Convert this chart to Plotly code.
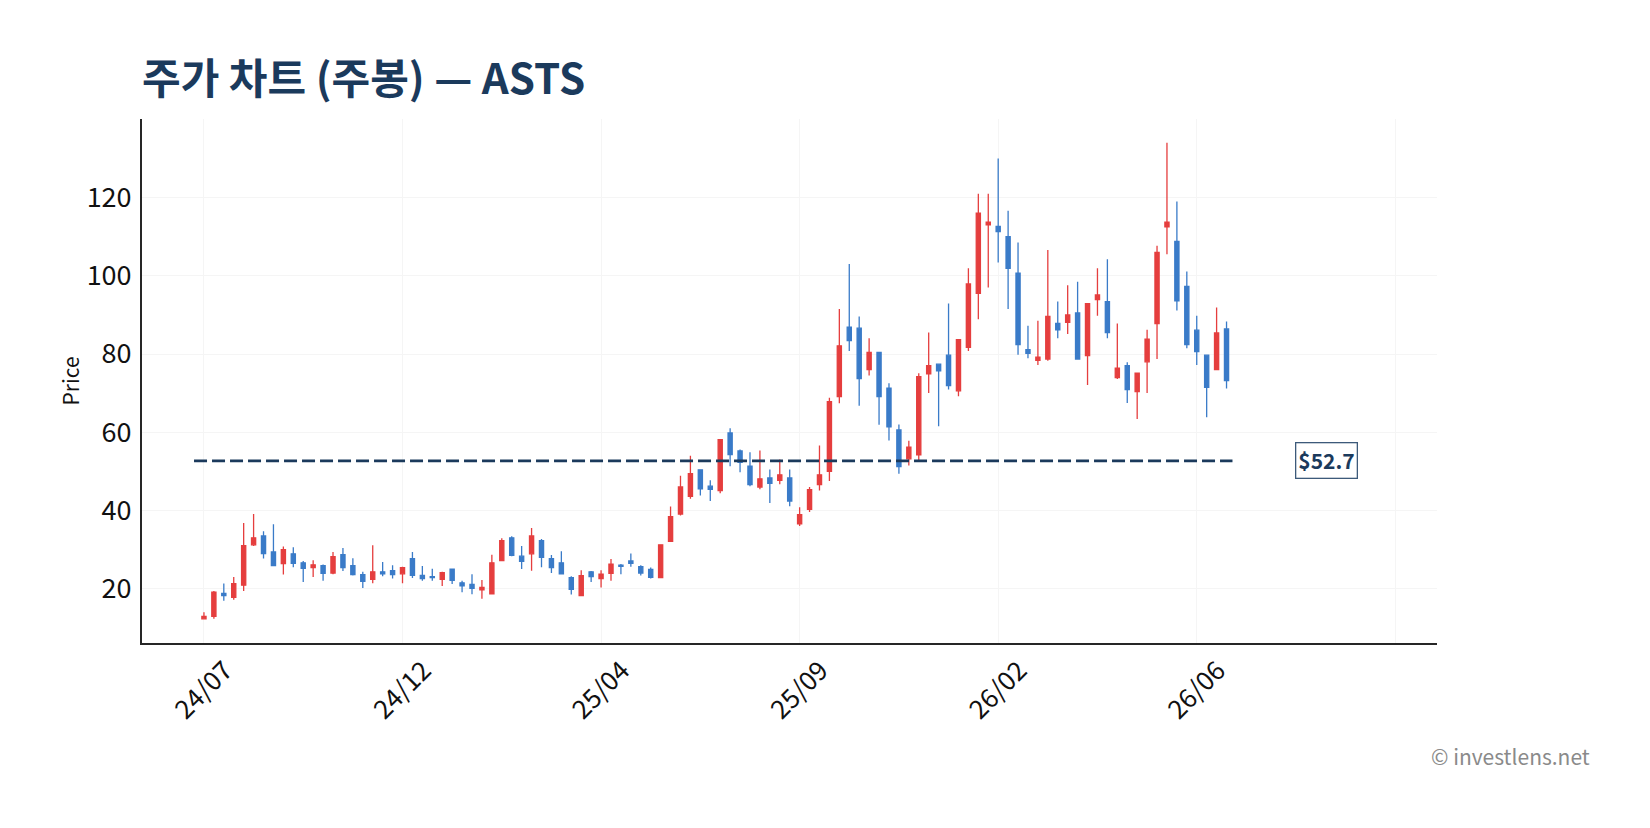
import plotly.graph_objects as go

# ---- data (weekly candles) ----
OPEN = [12.3, 12.9, 18.8, 17.8, 20.9, 31.2, 33.5, 29.4, 26.4, 28.9,
        26.6, 25.4, 25.9, 24.0, 28.7, 25.9, 23.6, 22.4, 24.3, 24.6,
        23.8, 27.7, 23.4, 23.1, 22.4, 25.0, 21.5, 21.1, 19.7, 18.7,
        27.2, 33.0, 28.3, 28.9, 32.3, 27.7, 26.6, 22.8, 18.2, 24.3,
        22.6, 23.9, 26.0, 27.1, 25.6, 24.9, 22.8, 32.1, 39.1, 43.6,
        50.4, 46.2, 45.1, 59.8, 55.2, 51.3, 46.0, 48.3, 47.7, 48.3,
        36.6, 40.3, 46.6, 50.0, 69.1, 86.9, 86.6, 76.0, 80.4, 71.3,
        60.6, 53.2, 54.2, 74.9, 77.4, 79.7, 70.6, 81.7, 95.5, 113.0,
        112.6, 110.0, 100.7, 81.1, 78.4, 78.7, 87.8, 88.1, 90.5, 79.6,
        93.9, 93.4, 74.0, 77.0, 70.4, 78.0, 87.8, 112.5, 108.8, 97.3,
        86.1, 79.7, 76.0, 86.4]
HIGH = [14.0, 19.4, 21.3, 23.0, 36.8, 39.1, 34.7, 36.5, 30.8, 30.6,
        27.1, 27.3, 26.2, 29.4, 30.4, 27.8, 24.3, 31.1, 26.8, 26.0,
        25.6, 29.4, 25.8, 25.1, 24.3, 25.1, 22.0, 23.7, 22.2, 28.7,
        32.9, 33.4, 30.9, 35.5, 32.7, 28.6, 29.6, 23.2, 24.7, 24.5,
        24.7, 27.6, 26.3, 29.0, 26.0, 25.4, 31.3, 41.0, 48.9, 54.0,
        50.5, 47.7, 58.3, 61.0, 55.6, 54.9, 55.3, 50.5, 53.0, 50.5,
        40.8, 46.0, 56.6, 68.8, 91.5, 103.0, 89.6, 84.0, 80.5, 72.5,
        62.0, 57.8, 75.1, 85.5, 77.5, 92.9, 83.8, 101.9, 121.0, 121.0,
        130.0, 116.6, 108.5, 87.2, 88.5, 106.6, 93.4, 97.6, 98.5, 93.0,
        101.9, 104.2, 87.8, 77.9, 75.3, 86.2, 107.7, 134.0, 119.0, 101.1,
        89.8, 79.9, 91.9, 88.3]
LOW = [12.2, 12.3, 16.9, 17.2, 19.4, 30.9, 27.7, 25.8, 23.6, 25.5,
       21.7, 23.0, 22.0, 23.7, 24.5, 23.4, 20.2, 21.4, 23.2, 22.6,
       21.4, 22.7, 22.0, 22.0, 20.7, 21.2, 19.1, 18.6, 17.4, 18.6,
       27.0, 28.3, 25.0, 24.6, 25.5, 24.0, 23.6, 18.5, 18.1, 21.7,
       20.3, 22.0, 23.7, 25.6, 23.4, 22.6, 22.7, 32.0, 38.7, 43.0,
       43.8, 42.4, 44.4, 51.3, 49.8, 46.2, 45.4, 41.9, 46.7, 41.1,
       36.0, 39.6, 45.1, 47.5, 67.4, 80.8, 66.8, 74.5, 61.9, 57.9,
       49.4, 51.5, 52.8, 70.0, 61.5, 70.9, 69.2, 80.8, 88.9, 97.0,
       103.4, 91.5, 79.8, 78.9, 77.2, 78.3, 84.0, 85.1, 78.6, 72.1,
       89.8, 84.0, 73.6, 67.5, 63.4, 70.0, 78.7, 105.5, 91.1, 81.5,
       77.2, 63.8, 76.0, 71.2]
CLOSE = [12.9, 19.1, 18.2, 21.3, 31.0, 33.0, 29.0, 25.9, 30.0, 26.5,
         25.2, 26.1, 23.9, 28.2, 25.4, 23.6, 21.9, 24.3, 23.8, 23.6,
         25.4, 23.4, 22.6, 22.8, 24.1, 22.1, 20.7, 20.1, 20.3, 26.6,
         32.3, 28.5, 27.0, 33.5, 28.0, 25.4, 23.8, 19.8, 23.3, 23.1,
         23.7, 26.3, 25.7, 26.5, 24.0, 22.9, 31.2, 38.4, 46.0, 49.4,
         45.5, 45.4, 58.1, 54.3, 52.3, 46.6, 48.1, 46.9, 49.1, 42.4,
         38.9, 45.3, 49.1, 67.8, 82.1, 83.4, 73.7, 80.4, 69.1, 61.4,
         51.2, 56.2, 74.2, 77.0, 75.7, 71.9, 83.7, 97.9, 116.0, 113.7,
         111.3, 101.9, 82.4, 80.2, 79.2, 89.6, 86.2, 90.0, 78.7, 92.9,
         95.1, 85.5, 76.4, 70.9, 75.1, 83.8, 106.0, 113.7, 93.6, 82.4,
         80.6, 71.5, 85.4, 73.2]
X_TICK_POS = [0, 20, 40, 60, 80, 100, 120]
X_TICK_LABELS = ["24/07", "24/12", "25/04", "25/09", "26/02", "26/06", ""]
Y_TICKS = [20, 40, 60, 80, 100, 120]
REF_PRICE = 52.7
TITLE = "주가 차트 (주봉) — ASTS"
WATERMARK = "© investlens.net"

X = list(range(len(OPEN)))

FONT = "Noto Sans CJK KR"
NAVY = "#1b3a5c"
RED = "#e53e3e"
BLUE = "#3a7bc8"

lo, hi = min(LOW), max(HIGH)
pad = (hi - lo) * 0.05

fig = go.Figure()
fig.add_trace(go.Candlestick(
    x=X, open=OPEN, high=HIGH, low=LOW, close=CLOSE,
    increasing=dict(line=dict(color=RED, width=1.3), fillcolor=RED),
    decreasing=dict(line=dict(color=BLUE, width=1.3), fillcolor=BLUE),
    whiskerwidth=0, showlegend=False, hoverinfo="skip",
))

fig.add_shape(type="line", xref="x", yref="y",
              x0=X[0] - 1, x1=X[-1] + 0.6, y0=REF_PRICE, y1=REF_PRICE,
              line=dict(color=NAVY, width=2.7, dash="13px,5px"))

fig.add_annotation(x=X[-1] + 10.1, y=REF_PRICE, xref="x", yref="y",
                   text=f"<b>${REF_PRICE}</b>", showarrow=False,
                   font=dict(family=FONT, size=21, color=NAVY),
                   bgcolor="white", bordercolor="#3d5a7a", borderwidth=1.3,
                   borderpad=2, xanchor="center", yanchor="middle")

fig.add_annotation(x=1.1195, y=-0.215, xref="paper", yref="paper",
                   text=WATERMARK, showarrow=False,
                   font=dict(family=FONT, size=21, color="#8a8a8a"),
                   xanchor="right", yanchor="middle")

fig.update_layout(
    width=1650, height=828,
    margin=dict(l=142, r=213, t=119, b=185),
    paper_bgcolor="white", plot_bgcolor="white",
    boxgap=0.4,
    title=dict(text=f"<b>{TITLE}</b>", x=142 / 1650, xref="container", xanchor="left",
               y=1 - 79 / 828, yref="container", yanchor="middle",
               font=dict(family=FONT, size=42, color=NAVY)),
    font=dict(family=FONT, color="#111111"),
    showlegend=False,
)
fig.update_xaxes(
    range=[-6.24, 124.2], rangeslider=dict(visible=False),
    tickmode="array", tickvals=X_TICK_POS, ticktext=X_TICK_LABELS,
    tickangle=-45, ticklabelshift=21, ticklabelstandoff=0,
    tickfont=dict(family=FONT, size=26, color="#111111"),
    showgrid=True, gridcolor="#f5f5f5", gridwidth=1,
    showline=True, linecolor="#262626", linewidth=2,
    ticks="", zeroline=False, mirror=False,
)
fig.update_yaxes(
    range=[lo - pad, hi + pad],
    tickmode="array", tickvals=Y_TICKS,
    tickfont=dict(family=FONT, size=27, color="#111111"),
    ticklabelstandoff=3,
    title=dict(text="Price", font=dict(family=FONT, size=21, color="#111111"), standoff=1),
    showgrid=True, gridcolor="#f5f5f5", gridwidth=1,
    showline=True, linecolor="#262626", linewidth=2,
    ticks="", zeroline=False, mirror=False,
)

fig.write_html("out.html")
